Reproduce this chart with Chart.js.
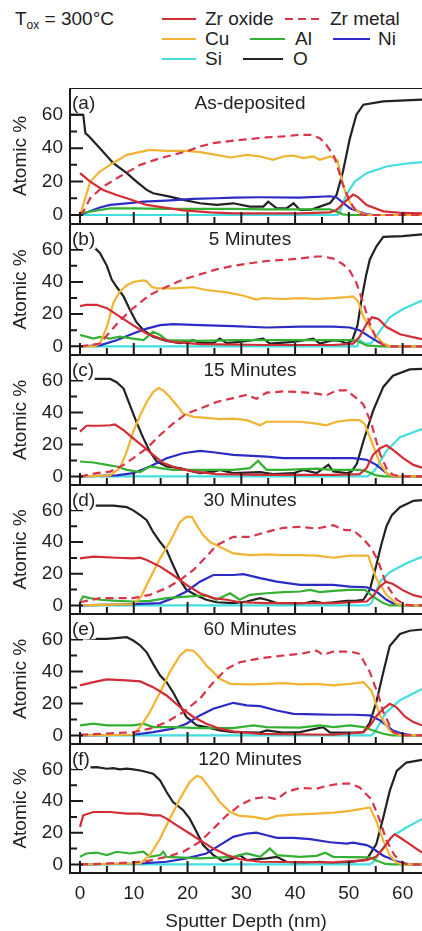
<!DOCTYPE html>
<html>
<head>
<meta charset="utf-8">
<script src="https://cdn.jsdelivr.net/npm/chart.js"></script>
<style>
  html, body { margin: 0; padding: 0; background: #fff; }
  body { position: relative; width: 422px; height: 931px; overflow: hidden;
         font-family: "Liberation Sans", Arial, sans-serif; color: #222; }
  canvas { position: absolute; left: 0; }
  .lg { position: absolute; font-size: 19px; line-height: 20px; white-space: nowrap; }
  .lg sub { font-size: 12px; vertical-align: -4px; }
  svg { position: absolute; left: 0; top: 0; }
</style>
</head>
<body>
<svg id="legendLines" width="422" height="80"></svg>
<div class="lg" style="left:15px;top:9px">T<sub>ox</sub> = 300°C</div>
<script>
// series + panels
var seriesNames = ["Zr oxide", "Zr metal", "Cu", "Al", "Ni", "Si", "O"];
var panelLetters = ["(a)", "(b)", "(c)", "(d)", "(e)", "(f)"];
var panelTitles = ["As-deposited", "5 Minutes", "15 Minutes", "30 Minutes", "60 Minutes", "120 Minutes"];
var depthTicks = [0, 10, 20, 30, 40, 50, 60];
var atomicTicks = [0, 20, 40, 60];

// [depth nm, atomic %]
// (a) as-deposited
var zrOxA = [[0,25],[1.9,20],[4.3,15],[6.8,12],[8.7,10],[12.4,6],[16.7,4],[19.2,2.8],[24.2,1.6],[28.5,1],[40.9,1],[46.5,1.6],[47.7,3],[49.3,8],[50.8,12.2],[51.6,11],[53.3,6],[56.4,2.2],[60,1.2],[63.6,1]];
var zrMeA = [[0,0],[0.6,2],[1.9,10],[4.3,17],[7.4,23],[11.2,30],[14.9,34],[19.8,38],[22.3,41],[24.8,43],[28.5,44.5],[31.6,45.5],[34.7,46.5],[37.8,47],[40.9,48],[43.0,48],[44.6,46],[45.8,42],[47.1,36],[47.7,31],[48.9,18],[50.2,8],[51.4,2],[52.5,0],[63.6,0]];
var cuA = [[0,0],[0.3,3],[1.9,20],[3.7,26],[5.6,30],[8.7,36],[13.0,39],[16.1,38.4],[19.8,38.4],[22.3,37.6],[25.4,36],[27.9,34.4],[31.0,36],[33.5,35],[35.9,33],[37.8,35],[39.7,35.6],[41.5,34],[43.4,35],[44.6,33],[46.5,35],[47.4,34],[47.9,32.6],[48.6,22],[49.5,12],[50.8,4],[52.5,0.6],[54,0],[63.6,0]];
var alA = [[0,1],[3.7,3],[5.6,4],[9.9,4],[16.1,3.6],[22.3,3.6],[28.5,3.6],[34.7,3.4],[40.9,3.4],[46.5,3.4],[47.7,2],[48.9,0.4],[50,0],[63.6,0]];
var niA = [[0,0],[3.7,4.5],[5.6,6],[8.7,7],[11.8,8],[16.1,8.6],[21.0,9.6],[25.4,10],[28.5,10.4],[33.5,10.6],[40.9,10.4],[46.5,11.2],[47.7,10.5],[50.2,4],[52.7,1],[54.5,0],[63.6,0]];
var siA = [[0,0],[47.9,0],[48.3,2],[49.5,12],[51.1,20],[53.3,25],[57.0,29],[60,30.5],[63.6,31.6]];
var oA = [[-1.8,60],[0.6,60],[1.0,49],[1.7,47],[3.7,40],[6.2,31],[8.7,25],[10.5,20],[12.4,15],[13.6,13],[16.7,11],[19.2,9],[22.3,7],[25.4,6],[28.5,7],[31.6,5],[34.1,5],[35.0,8],[36.6,4],[38.4,4],[39.7,7],[40.9,3],[42.8,3],[44.6,5],[46.5,7.2],[47.7,12],[48.9,26],[50.2,46],[51.4,60],[52.7,66],[56.4,68],[63.6,69]];

// (b) 5 minutes
var zrOxB = [[0,25],[1.2,25.8],[3.1,25.8],[5.0,23.7],[7.4,18.4],[9.9,13],[12.4,8],[14.9,4.8],[17.3,2.7],[22.3,1.3],[34.7,0.8],[47.1,0.8],[50.8,1.7],[52.0,5.9],[53.3,14],[54.3,18],[55.5,17],[57.0,12],[59.5,7.5],[63.6,4.4]];
var zrMeB = [[0,0],[3.7,1.7],[5.6,9],[7.4,16],[9.9,23.7],[13.0,32],[16.1,37],[19.2,41.5],[22.3,44.7],[25.4,47.8],[28.5,50],[31.6,51.6],[34.7,53],[37.8,53.7],[40.9,54.5],[44.0,55.8],[45.2,55.8],[47.1,54.5],[48.9,51],[50.2,46.8],[51.4,39.4],[52.7,26.8],[53.9,14],[55.1,4.8],[56.4,0.6],[57.5,0],[63.6,0]];
var cuB = [[0,0],[2.5,0],[3.7,1.7],[5.0,12],[6.2,27],[7.4,34],[8.7,38],[9.9,40],[11.8,41],[12.4,40.5],[13.3,37],[14.3,36],[17.3,36],[21.1,36.7],[23.5,35],[27.3,33.5],[30.4,31.4],[32.8,29],[34.1,30],[37.8,29.4],[40.9,30],[44.0,29.4],[47.1,30],[49.6,30.6],[50.8,31],[51.7,28],[52.7,18.4],[53.9,12],[55.1,6],[56.4,1.7],[57.6,0],[63.6,0]];
var alB = [[0,7],[1.2,6],[2.5,4.8],[3.7,5.9],[5.6,4.8],[7.4,6],[9.9,4.8],[11.8,3.8],[13.6,9],[14.9,7],[16.1,3.8],[22.3,3.4],[28.5,3.8],[34.7,3.8],[40.9,3.8],[47.1,3.8],[50.8,3.8],[52.0,2.7],[53.3,0.6],[55.8,0],[63.6,0]];
var niB = [[0,0],[3.7,0.6],[6.8,3.8],[9.9,8],[12.4,11],[14.9,13.2],[17.3,13.8],[22.3,13.2],[28.5,12.6],[34.7,11.7],[40.9,12.2],[47.1,12.2],[50.2,11.7],[52.0,10],[53.9,5.9],[55.8,2],[57.6,0],[63.6,0]];
var siB = [[0,0],[51.5,0],[52.0,4],[53.0,1.5],[54.2,2],[55.8,9.6],[57.6,18],[60.0,23],[63.6,28.5]];
var oB = [[0,62],[2.8,61],[3.7,58],[5.0,50],[5.9,41.5],[6.8,37],[8.1,31],[9.3,22.6],[10.5,15],[11.8,10],[13.6,6],[16.1,3.4],[18.6,2],[21.1,3.8],[22.3,2],[24.8,2],[26.0,4.8],[27.3,2],[29.7,2.7],[34.1,4.8],[35.3,1.7],[39.7,2.7],[43.4,4.8],[44.6,1.7],[47.1,3.8],[48.3,3.4],[49.6,1.7],[50.6,3.5],[51.6,13],[52.4,30],[53.2,44],[53.9,54],[55.1,62],[56.4,68],[60.0,68.5],[63.6,69.5]];

// (c) 15 minutes
var zrOxC = [[0,28],[1.2,31.7],[3.7,31.7],[5.6,32],[6.5,32.5],[8.1,29],[9.9,23.8],[11.8,18.6],[13.6,13.5],[15.5,8.3],[18.0,5.2],[21.1,3.1],[25.4,1.4],[34.7,1],[47.1,1],[52.0,1.4],[53.3,5.2],[54.5,13.5],[55.8,17.6],[57.0,19.5],[58.2,16.6],[60.1,11.4],[62.0,7.2],[63.6,5.5]];
var zrMeC = [[0,0],[3.1,2],[5.6,3],[8.1,7.2],[9.9,11.4],[12.4,17.6],[14.9,25.9],[17.3,33],[19.8,39.3],[22.3,42.4],[25.4,46.6],[28.5,49],[31.0,51],[32.8,48.6],[34.7,52.4],[37.8,53.2],[40.9,52.8],[44.0,51.8],[45.8,50.7],[47.7,53.8],[49.6,53.8],[51.4,49],[52.7,45],[54.2,33],[55.1,22],[55.8,14],[57.0,5],[58.2,1],[59.5,0],[63.6,0]];
var cuC = [[0,0],[5.6,0.6],[7.4,5.2],[8.7,15.5],[9.9,28],[11.2,38.3],[12.4,46.6],[13.6,52.8],[14.6,55.3],[15.5,53.8],[16.7,49.7],[18.0,44.5],[19.2,39.3],[21.1,37.3],[23.5,36.6],[26.0,35.8],[28.5,36.2],[31.0,35.2],[33.5,32],[34.7,34.2],[37.8,34.2],[40.9,34.2],[44.0,33],[45.8,32],[47.7,34.2],[50.2,35.2],[52.0,35.2],[52.9,33],[54.2,22],[55.8,8],[57.0,2],[58.5,0],[63.6,0]];
var alC = [[0,9.3],[2.5,8.7],[5.0,7.2],[6.8,6.2],[8.7,4.1],[11.2,2.7],[13.0,6.2],[14.9,5.2],[17.3,4.1],[22.3,4.1],[28.5,4.1],[31.6,5.2],[33.1,9.7],[34.7,4.1],[37.8,4.1],[44.0,4.8],[47.1,4.1],[52.0,4.1],[53.3,3.1],[55.1,0.6],[56.5,0],[63.6,0]];
var niC = [[0,0],[6.8,0.6],[9.9,2],[13.0,6.2],[16.1,11.4],[19.2,14.5],[22.3,16],[24.8,15.1],[28.5,13.5],[34.7,12.4],[37.8,11.4],[47.1,11.4],[50.8,11.4],[53.3,10.4],[55.1,7.2],[57.0,2],[58.2,0],[63.6,0]];
var siC = [[0,0],[53.5,0],[54.8,3.7],[57.0,16],[59.5,24.5],[63.6,29.6]];
var oC = [[0,61],[3.1,61],[5.6,61],[6.8,59],[8.1,55],[9.3,44.5],[10.5,34],[11.8,23.8],[13.0,15.5],[14.3,9.3],[16.1,6.2],[18.6,5.2],[20.4,3.5],[22.3,2],[24.8,3],[26.0,4.1],[28.5,2],[33.5,2.7],[35.9,1.4],[39.7,2],[41.5,4],[44.0,2],[46.2,7.2],[47.1,3],[49.6,2],[50.5,3],[51.5,8],[52.7,22],[54.5,41],[56.4,56],[58.2,63],[61.3,67],[63.6,67.3]];

// (d) 30 minutes
var zrOxD = [[0,29.7],[2.5,30.8],[6.8,30.1],[9.9,29.7],[11.2,30.1],[12.4,28.7],[14.9,24.5],[17.3,19.2],[19.8,13],[22.3,7.7],[24.8,4.6],[27.3,3.6],[29.7,2],[34.7,1.5],[47.1,1.5],[53.3,2.5],[54.5,6],[55.8,12],[56.9,15],[58.2,13.5],[60.1,9.5],[62.0,6.5],[63.6,5.2]];
var zrMeD = [[0,2],[3.7,4.6],[9.9,4.6],[13.0,6.7],[16.1,10.9],[18.6,16],[21.1,22.4],[23.5,30.8],[25.4,38],[28.5,43.3],[31.6,43.3],[34.7,46.4],[37.8,49],[40.9,49.6],[44.0,48.5],[47.1,50.6],[49.3,47.5],[50.8,47.5],[52.7,42],[54.2,36],[55.5,27.6],[57.0,13],[58.9,3.6],[60.5,0.5],[61.5,0],[63.6,0]];
var cuD = [[0,0],[9.9,0.8],[11.2,4.6],[13.0,17],[14.9,29.7],[16.7,40],[18.6,52.7],[19.8,55.9],[20.8,55.9],[21.7,50.6],[22.9,44.4],[24.2,40],[26.0,37],[28.5,32.8],[31.6,31.8],[34.7,32.2],[37.8,31.8],[40.9,31.8],[44.0,31.4],[47.1,30.1],[50.2,31.4],[53.6,31.4],[55.1,17],[57.0,6.7],[58.9,1],[60,0],[63.6,0]];
var alD = [[0,2.5],[0.6,5.6],[1.9,4.6],[3.7,3.6],[6.8,2.9],[9.9,2.5],[13.0,2.9],[16.1,4.6],[19.8,5.6],[23.5,6.3],[25.4,3.6],[27.9,7.7],[29.7,3.6],[31.6,6.7],[34.7,7.7],[37.8,8.4],[40.9,8.8],[42.8,9.8],[44.6,8.4],[47.1,9.2],[50.2,9.8],[53.0,9.8],[54.5,5.6],[56.4,1.5],[57.6,0],[63.6,0]];
var niD = [[0,0],[9.9,0.8],[14.9,1.5],[17.3,4.6],[19.8,8.8],[22.3,15],[24.8,19.2],[28.5,19.2],[30.4,19.7],[33.5,17.2],[36.6,15],[40.9,13],[44.0,13],[47.1,13],[50.2,11.9],[53.3,11.5],[55.1,8.8],[57.0,3.6],[58.5,0.8],[60,0],[63.6,0]];
var siD = [[0,0],[53.5,0],[54.2,1.5],[55.8,15],[57.6,21],[60.7,26.6],[63.6,30.7]];
var oD = [[0,63],[3.1,63],[6.2,63],[8.7,62],[9.9,60],[11.2,57],[12.4,53.8],[13.6,46.4],[14.9,40],[16.1,35],[17.3,25.5],[18.6,16],[19.8,9.8],[21.7,6.3],[23.5,3.6],[25.4,2],[28.5,1.5],[31.0,2.5],[33.5,4.6],[34.7,3.6],[36.6,1.5],[40.9,0.8],[43.4,2.5],[45.2,1.5],[47.1,2],[49.6,2.9],[51.5,3],[52.7,3.6],[53.9,10],[55.0,24],[56.0,38],[57.0,50],[58.0,57],[59.5,62],[62.0,66],[63.6,66.5]];

// (e) 60 minutes
var zrOxE = [[0,31.3],[2.5,33.3],[5.0,35],[8.7,34.4],[11.2,33.8],[13.6,30.2],[16.1,25],[18.6,17.7],[21.1,11.5],[23.5,7.3],[26.0,4.2],[28.5,2.5],[33.5,1],[47.1,0.4],[52.7,2],[54.0,6.3],[55.1,12],[56.4,16.7],[57.6,19.8],[58.8,17.7],[60.5,11.5],[62.0,8.3],[63.6,6.3]];
var zrMeE = [[0,0.4],[3.7,1],[9.9,2],[13.0,4.2],[16.1,8.3],[19.2,14.6],[22.3,23],[24.8,33.3],[27.3,41.7],[29.7,45.8],[33.5,48.3],[37.8,50],[40.9,51],[44.0,53.1],[45.2,50.4],[47.1,52.5],[50.2,52.5],[52.0,51],[53.9,39.6],[55.5,25],[56.4,14.6],[58.2,2],[59.5,0.5],[60.5,0],[63.6,0]];
var cuE = [[0,0],[9.9,0.4],[11.2,5.2],[13.0,14.6],[14.9,27],[16.7,39.6],[18.6,50],[19.8,53.5],[21.1,53],[22.3,49],[23.5,43.8],[24.8,39.6],[26.0,35.4],[27.9,32.3],[31.6,31.9],[34.7,32.3],[37.8,32.7],[40.9,31.9],[44.0,32.3],[47.1,31.3],[50.2,32.3],[52.7,33.3],[54.2,28],[55.8,12.5],[57.6,3],[59.0,0.5],[60,0],[63.6,0]];
var alE = [[0,6.3],[2.5,7.3],[5.0,6.3],[9.9,6.3],[11.8,7.3],[13.6,5.2],[17.3,5.2],[22.3,4.6],[28.5,4.6],[32.2,6.3],[34.7,5.2],[40.9,4.8],[44.6,6.3],[47.1,5.2],[50.2,6.3],[52.7,5.2],[54.5,3.1],[56.4,1],[58,0],[63.6,0]];
var niE = [[0,0],[9.9,0.4],[13.6,2],[17.3,4.2],[19.8,7.3],[22.3,12.5],[24.8,16.7],[27.3,19.2],[28.5,20.4],[31.0,18.8],[33.5,18.3],[36.6,15.6],[39.7,13.5],[44.0,13.1],[47.1,12.9],[50.8,12.9],[53.9,12.5],[55.8,9.4],[58.2,3],[60.0,1],[62,0],[63.6,0]];
var siE = [[0,0],[54.2,0],[54.8,2],[57.0,14.6],[59.5,22],[61.5,25.5],[63.6,29]];
var oE = [[0,61],[3.1,60.4],[5.0,60.4],[8.7,61.5],[9.9,59.4],[11.2,56.3],[12.4,52],[13.6,44.8],[14.9,37.5],[16.1,33.3],[17.3,27],[18.6,18.8],[19.8,11.5],[21.7,6.3],[23.5,5.2],[26.0,3.1],[28.5,2],[33.5,1.7],[34.7,3.1],[37.8,1.7],[40.9,2],[45.2,5.2],[46.5,1.7],[51.5,1.7],[52.7,2],[53.9,8],[55.1,20.8],[56.4,39.6],[57.6,56],[59.5,63.5],[61.3,65.5],[63.6,66.3]];

// (f) 120 minutes
var zrOxF = [[0,23.7],[0.6,31],[2.5,33.1],[5.6,33.1],[8.7,32.1],[11.2,32.1],[13.6,31],[14.9,31],[16.1,28.9],[18.0,24.7],[20.4,19.5],[22.3,15.3],[24.8,10],[27.3,5.9],[29.7,3.4],[33.5,1.7],[47.1,1.3],[53.3,2.7],[55.1,5],[56.4,10],[57.6,16],[58.5,19],[59.5,17],[61.3,12.8],[63.6,7.5]];
var zrMeF = [[0,0],[3.7,0.4],[9.9,1.3],[12.4,2.1],[16.1,4.8],[19.2,8],[22.3,14.3],[24.8,22.6],[27.3,31],[29.7,37.3],[32.2,41.5],[34.7,42.6],[36.6,41.1],[38.4,45.7],[40.9,48.2],[44.0,47.8],[45.8,49.5],[48.3,51],[50.2,51],[52.0,48.6],[54.2,41],[55.8,27.5],[57.0,15],[58.5,5.7],[60,1],[61,0],[63.6,0]];
var cuF = [[0,0],[11.2,0.6],[13.0,5.9],[14.9,16.4],[16.7,28.9],[18.6,41.5],[20.4,52],[21.7,55.8],[22.6,55.1],[24.2,47.8],[26.0,39.4],[27.9,33.1],[29.7,30.6],[32.2,30],[34.7,28.5],[36.6,30.6],[39.7,31.4],[44.0,32.1],[47.1,32.7],[50.2,33.8],[53.9,36],[55.1,27.5],[56.4,15],[57.6,5.7],[58.9,1],[60,0],[63.6,0]];
var alF = [[0,4.8],[1.2,6.9],[3.1,7.5],[5.0,5.9],[6.8,8],[9.3,6.9],[11.8,8],[13.0,4.8],[14.9,5.9],[15.5,8],[16.1,4.8],[22.3,3.8],[28.5,4.8],[31.0,6.9],[33.5,4.8],[35.3,10],[36.6,5.9],[40.9,4.8],[44.0,5.4],[45.6,7.4],[47.1,4.8],[53.9,4.4],[55.1,2.5],[56.8,0.3],[58,0],[63.6,0]];
var niF = [[0,0],[11.2,0.6],[16.1,1.7],[19.8,3.8],[23.5,6.9],[26.0,12.2],[28.5,17.4],[31.0,19.5],[32.8,20.1],[34.7,18.4],[36.6,16.8],[39.7,16.8],[42.8,16],[46.5,14],[49.6,13.2],[50.8,13.8],[52.0,13],[53.3,12.2],[54.2,10.7],[56.4,5.5],[58.9,2],[60.5,0.5],[61.5,0],[63.6,0]];
var siF = [[0,0],[53.9,0],[54.5,1.3],[56.4,10.7],[58.2,18],[60.7,23.3],[63.6,28.6]];
var oF = [[0,61],[3.1,61.4],[5.0,60.4],[6.2,60.8],[7.4,60],[8.7,60.4],[9.9,60],[11.2,59.3],[12.4,58.3],[13.6,57.2],[14.9,53],[16.1,45.7],[17.3,39.4],[19.2,34.2],[20.4,28.9],[21.7,20.5],[22.9,12.2],[24.8,5.9],[26.6,2.1],[28.5,3.8],[29.7,5.9],[31.0,2.7],[34.7,3.8],[36.6,4.8],[38.4,1.7],[40.9,0.6],[44.6,1.7],[47.1,0.6],[50.8,1.7],[53.3,3],[55.1,12.8],[56.4,29.6],[57.6,46.4],[58.9,59],[60.7,64.3],[63.6,66]];

var panelSeries = [
  [zrOxA, zrMeA, cuA, alA, niA, siA, oA],
  [zrOxB, zrMeB, cuB, alB, niB, siB, oB],
  [zrOxC, zrMeC, cuC, alC, niC, siC, oC],
  [zrOxD, zrMeD, cuD, alD, niD, siD, oD],
  [zrOxE, zrMeE, cuE, alE, niE, siE, oE],
  [zrOxF, zrMeF, cuF, alF, niF, siF, oF]
];

// styles / layout
var lineColors = ["#d22d34", "#d8344a", "#f0b432", "#34b034", "#2c2cc4", "#44dede", "#222222"];
var lineDash = [[], [8, 5], [], [], [], [], []];
var panelEdges = [88, 224, 355, 485, 614, 744, 873];
var fontFam = '"Liberation Sans", Arial, sans-serif';
var xMin = -1.86, xMax = 63.6, yMin = -5.4, yMax = 76;

Chart.defaults.font.family = fontFam;
Chart.defaults.color = "#222";

// inward ticks, frame, panel label + title
var framePlugin = {
  id: "frame",
  afterDraw: function (chart) {
    var ctx = chart.ctx, a = chart.chartArea;
    var xs = chart.scales.x, ys = chart.scales.y;
    var idx = chart.options.panelIndex;
    ctx.save();
    ctx.strokeStyle = "#1a1a1a";
    ctx.lineWidth = 2;
    ctx.beginPath();
    ctx.moveTo(a.right + 2, a.top); ctx.lineTo(a.left, a.top);
    ctx.lineTo(a.left, a.bottom); ctx.lineTo(a.right + 2, a.bottom);
    for (var v = 0; v <= 60; v += 10) {
      var py = ys.getPixelForValue(v);
      ctx.moveTo(a.left, py); ctx.lineTo(a.left + (v % 20 === 0 ? 13 : 7), py);
    }
    for (var d = 0; d <= 60; d += 5) {
      var px = xs.getPixelForValue(d);
      ctx.moveTo(px, a.bottom); ctx.lineTo(px, a.bottom - (d % 10 === 0 ? 12 : 7));
    }
    ctx.stroke();

    ctx.font = "19px " + fontFam;
    ctx.textBaseline = "middle";
    var lw = ctx.measureText(panelLetters[idx]).width;
    ctx.fillStyle = "#fff";
    ctx.fillRect(a.left + 1.5, a.top + 7, lw + 1, 18);
    ctx.fillStyle = "#222";
    ctx.textAlign = "left";
    ctx.fillText(panelLetters[idx], a.left + 2, a.top + 16);
    ctx.textAlign = "center";
    ctx.fillText(panelTitles[idx], a.left + 180, a.top + 16);
    ctx.restore();
  }
};

var charts = [];
for (var i = 0; i < 6; i++) {
  var isLast = i === 5;
  var h = panelEdges[i + 1] - panelEdges[i];
  var cv = document.createElement("canvas");
  cv.width = 422;
  cv.height = isLast ? h + 70 : h;
  cv.style.top = panelEdges[i] + "px";
  document.body.appendChild(cv);

  var datasets = panelSeries[i].map(function (pts, k) {
    return {
      label: seriesNames[k],
      data: pts.map(function (p) { return { x: p[0], y: p[1] }; }),
      borderColor: lineColors[k],
      borderWidth: 2.2,
      borderDash: lineDash[k],
      pointRadius: 0,
      tension: 0,
      fill: false
    };
  });

  charts.push(new Chart(cv.getContext("2d"), {
    type: "line",
    data: { datasets: datasets },
    options: {
      panelIndex: i,
      responsive: false,
      animation: false,
      devicePixelRatio: 1,
      layout: { padding: 0 },
      plugins: { legend: { display: false }, tooltip: { enabled: false } },
      scales: {
        x: {
          type: "linear",
          min: xMin,
          max: xMax,
          display: isLast,
          grid: { display: false, drawTicks: false },
          border: { display: false },
          ticks: { font: { size: 19 }, color: "#222", padding: 9, maxRotation: 0 },
          title: { display: true, text: "Sputter Depth (nm)", font: { size: 19 }, color: "#222", padding: { top: 0, bottom: 10 } },
          afterBuildTicks: function (s) { s.ticks = depthTicks.map(function (v) { return { value: v }; }); },
          afterFit: function (s) {
            if (s.options.display) { s.height = 70; } else { s.height = 0; }
            s.paddingLeft = 0; s.paddingRight = 0;
          }
        },
        y: {
          type: "linear",
          min: yMin,
          max: yMax,
          grid: { display: false, drawTicks: false },
          border: { display: false },
          ticks: { font: { size: 19 }, color: "#222", padding: 7 },
          title: { display: true, text: "Atomic %", font: { size: 19 }, color: "#222", padding: { top: 9, bottom: 0 } },
          afterBuildTicks: function (s) { s.ticks = atomicTicks.map(function (v) { return { value: v }; }); },
          afterFit: function (s) { s.width = 70; s.paddingTop = 0; s.paddingBottom = 0; }
        }
      }
    },
    plugins: [framePlugin]
  }));
}

// legend (three rows like the figure)
var legendPlaces = [
  { k: 0, x1: 162, x2: 196, y: 19, tx: 205 },
  { k: 1, x1: 285, x2: 323, y: 19, tx: 330 },
  { k: 2, x1: 162, x2: 196, y: 39, tx: 205 },
  { k: 3, x1: 250, x2: 285, y: 39, tx: 295 },
  { k: 4, x1: 333, x2: 370, y: 39, tx: 378 },
  { k: 5, x1: 162, x2: 196, y: 59, tx: 205 },
  { k: 6, x1: 243, x2: 283, y: 59, tx: 293 }
];
var svg = document.getElementById("legendLines");
legendPlaces.forEach(function (p) {
  var ln = document.createElementNS("http://www.w3.org/2000/svg", "line");
  ln.setAttribute("x1", p.x1); ln.setAttribute("x2", p.x2);
  ln.setAttribute("y1", p.y); ln.setAttribute("y2", p.y);
  ln.setAttribute("stroke", lineColors[p.k]);
  ln.setAttribute("stroke-width", 2);
  if (lineDash[p.k].length) ln.setAttribute("stroke-dasharray", lineDash[p.k].join(" "));
  svg.appendChild(ln);
  var t = document.createElement("div");
  t.className = "lg";
  t.style.left = p.tx + "px";
  t.style.top = (p.y - 10) + "px";
  t.textContent = seriesNames[p.k];
  document.body.appendChild(t);
});
</script>
</body>
</html>
